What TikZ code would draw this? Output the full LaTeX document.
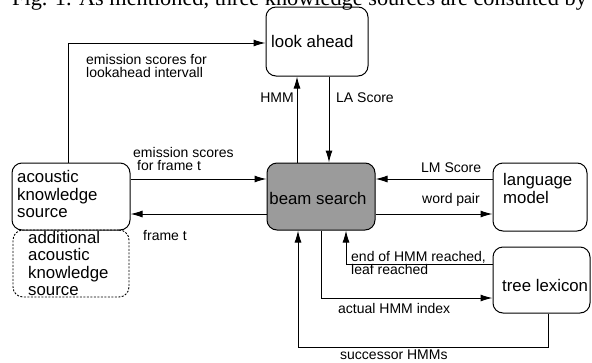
\documentclass[tikz,border=0pt]{standalone}
\usepackage{fontspec}
\setmainfont{Liberation Sans}
\newfontfamily\capfont{Liberation Serif}
\usetikzlibrary{arrows.meta}
\tikzset{
  box/.style={draw, line width=1pt, rounded corners=10pt, inner sep=0pt},
  dbox/.style={box, line width=0.9pt, dash pattern=on 2pt off 1.5pt},
  big/.style={font=\fontsize{16.8}{17.5}\selectfont, align=left, inner sep=0pt},
  lab/.style={font=\fontsize{14}{13}\selectfont, align=left, inner sep=0pt},
  conn/.style={line width=1pt},
  arr/.style={conn, -{Latex[length=12pt,width=7pt]}}
}
\begin{document}
\begin{tikzpicture}[x=1pt,y=-1pt]
\useasboundingbox (0,0) rectangle (592,362);
\clip (0,0) rectangle (592,362);
% caption fragment
\node[anchor=base west, inner sep=0pt, font=\capfont\fontsize{22.3}{24}\selectfont] (cap) at (12,5) {Fig. 1. As mentioned, three knowledge sources are consulted by};
% boxes
\node[box, minimum width=102pt, minimum height=69pt] (la) at (317,41.5) {};
\node[box, fill={rgb,255:red,155;green,155;blue,155}, minimum width=108pt, minimum height=67pt] (bs) at (321,196.5) {};
\node[box, minimum width=118pt, minimum height=67pt] (ak) at (71,196.5) {};
\node[dbox, minimum width=116pt, minimum height=67pt] (ad) at (71,263.5) {};
\node[box, minimum width=94pt, minimum height=68pt] (lm) at (540,197) {};
\node[box, minimum width=97pt, minimum height=66pt] (tl) at (541.5,280) {};
% box texts
\node[big, anchor=west] (lat) at (271,41) {look ahead};
\node[big] (bst) at (318,198) {beam search};
\node[big, anchor=west] (akt) at (17,194) {acoustic\\knowledge\\source};
\node[big, anchor=west] (adt) at (28,263.5) {additional\\acoustic\\knowledge\\source};
\node[big, anchor=west] (lmt) at (503,188.5) {language\\model};
\node[big, anchor=west] (tlt) at (502,285) {tree lexicon};
% connectors
\draw[arr] ([xshift=-3pt]ak.north) |- ([yshift=-1.5pt]la.west);
\draw[arr] ([xshift=-24pt]bs.north) -- ([xshift=-24pt]bs.north |- la.south);
\draw[arr] ([xshift=8pt]bs.north |- la.south) -- ([xshift=8pt]bs.north);
\draw[arr] ([yshift=17.5pt]ak.east) -- ([yshift=17.5pt]bs.west);
\draw[arr] ([yshift=-17.5pt]bs.west) -- ([yshift=-17.5pt]ak.east);
\draw[arr] ([yshift=17.5pt]bs.east -| lm.west) -- ([yshift=17.5pt]bs.east);
\draw[arr] ([yshift=-17.5pt]bs.east) -- ([yshift=-17.5pt]bs.east -| lm.west);
\draw[arr] ([yshift=16pt]tl.west) -| ([xshift=25pt]bs.south);
\draw[arr] (bs.south) |- ([yshift=-18pt]tl.west);
\coordinate (sc) at (298,347);
\draw[arr] ([xshift=6.5pt]tl.south) |- (sc) -- (sc |- bs.south);
% connector labels
\node[lab, anchor=west] (l1) at (86,66) {emission scores for\\lookahead intervall};
\node[lab, anchor=east] (l2) at (294,98) {HMM};
\node[lab, anchor=west] (l3) at (336,98) {LA Score};
\node[lab, anchor=west] (l4) at (133,159) {emission scores\\\hspace{4pt}for frame t};
\node[lab, anchor=west] (l5) at (143,235) {frame t};
\node[lab, anchor=west] (l6) at (421,168) {LM Score};
\node[lab, anchor=west] (l7) at (422,200) {word pair};
\node[lab, anchor=west] (l8) at (351,263) {end of HMM reached,\\leaf reached};
\node[lab, anchor=west] (l9) at (338,308) {actual HMM index};
\node[lab, anchor=west] (l10) at (340,355) {successor HMMs};
\end{tikzpicture}
\end{document}
